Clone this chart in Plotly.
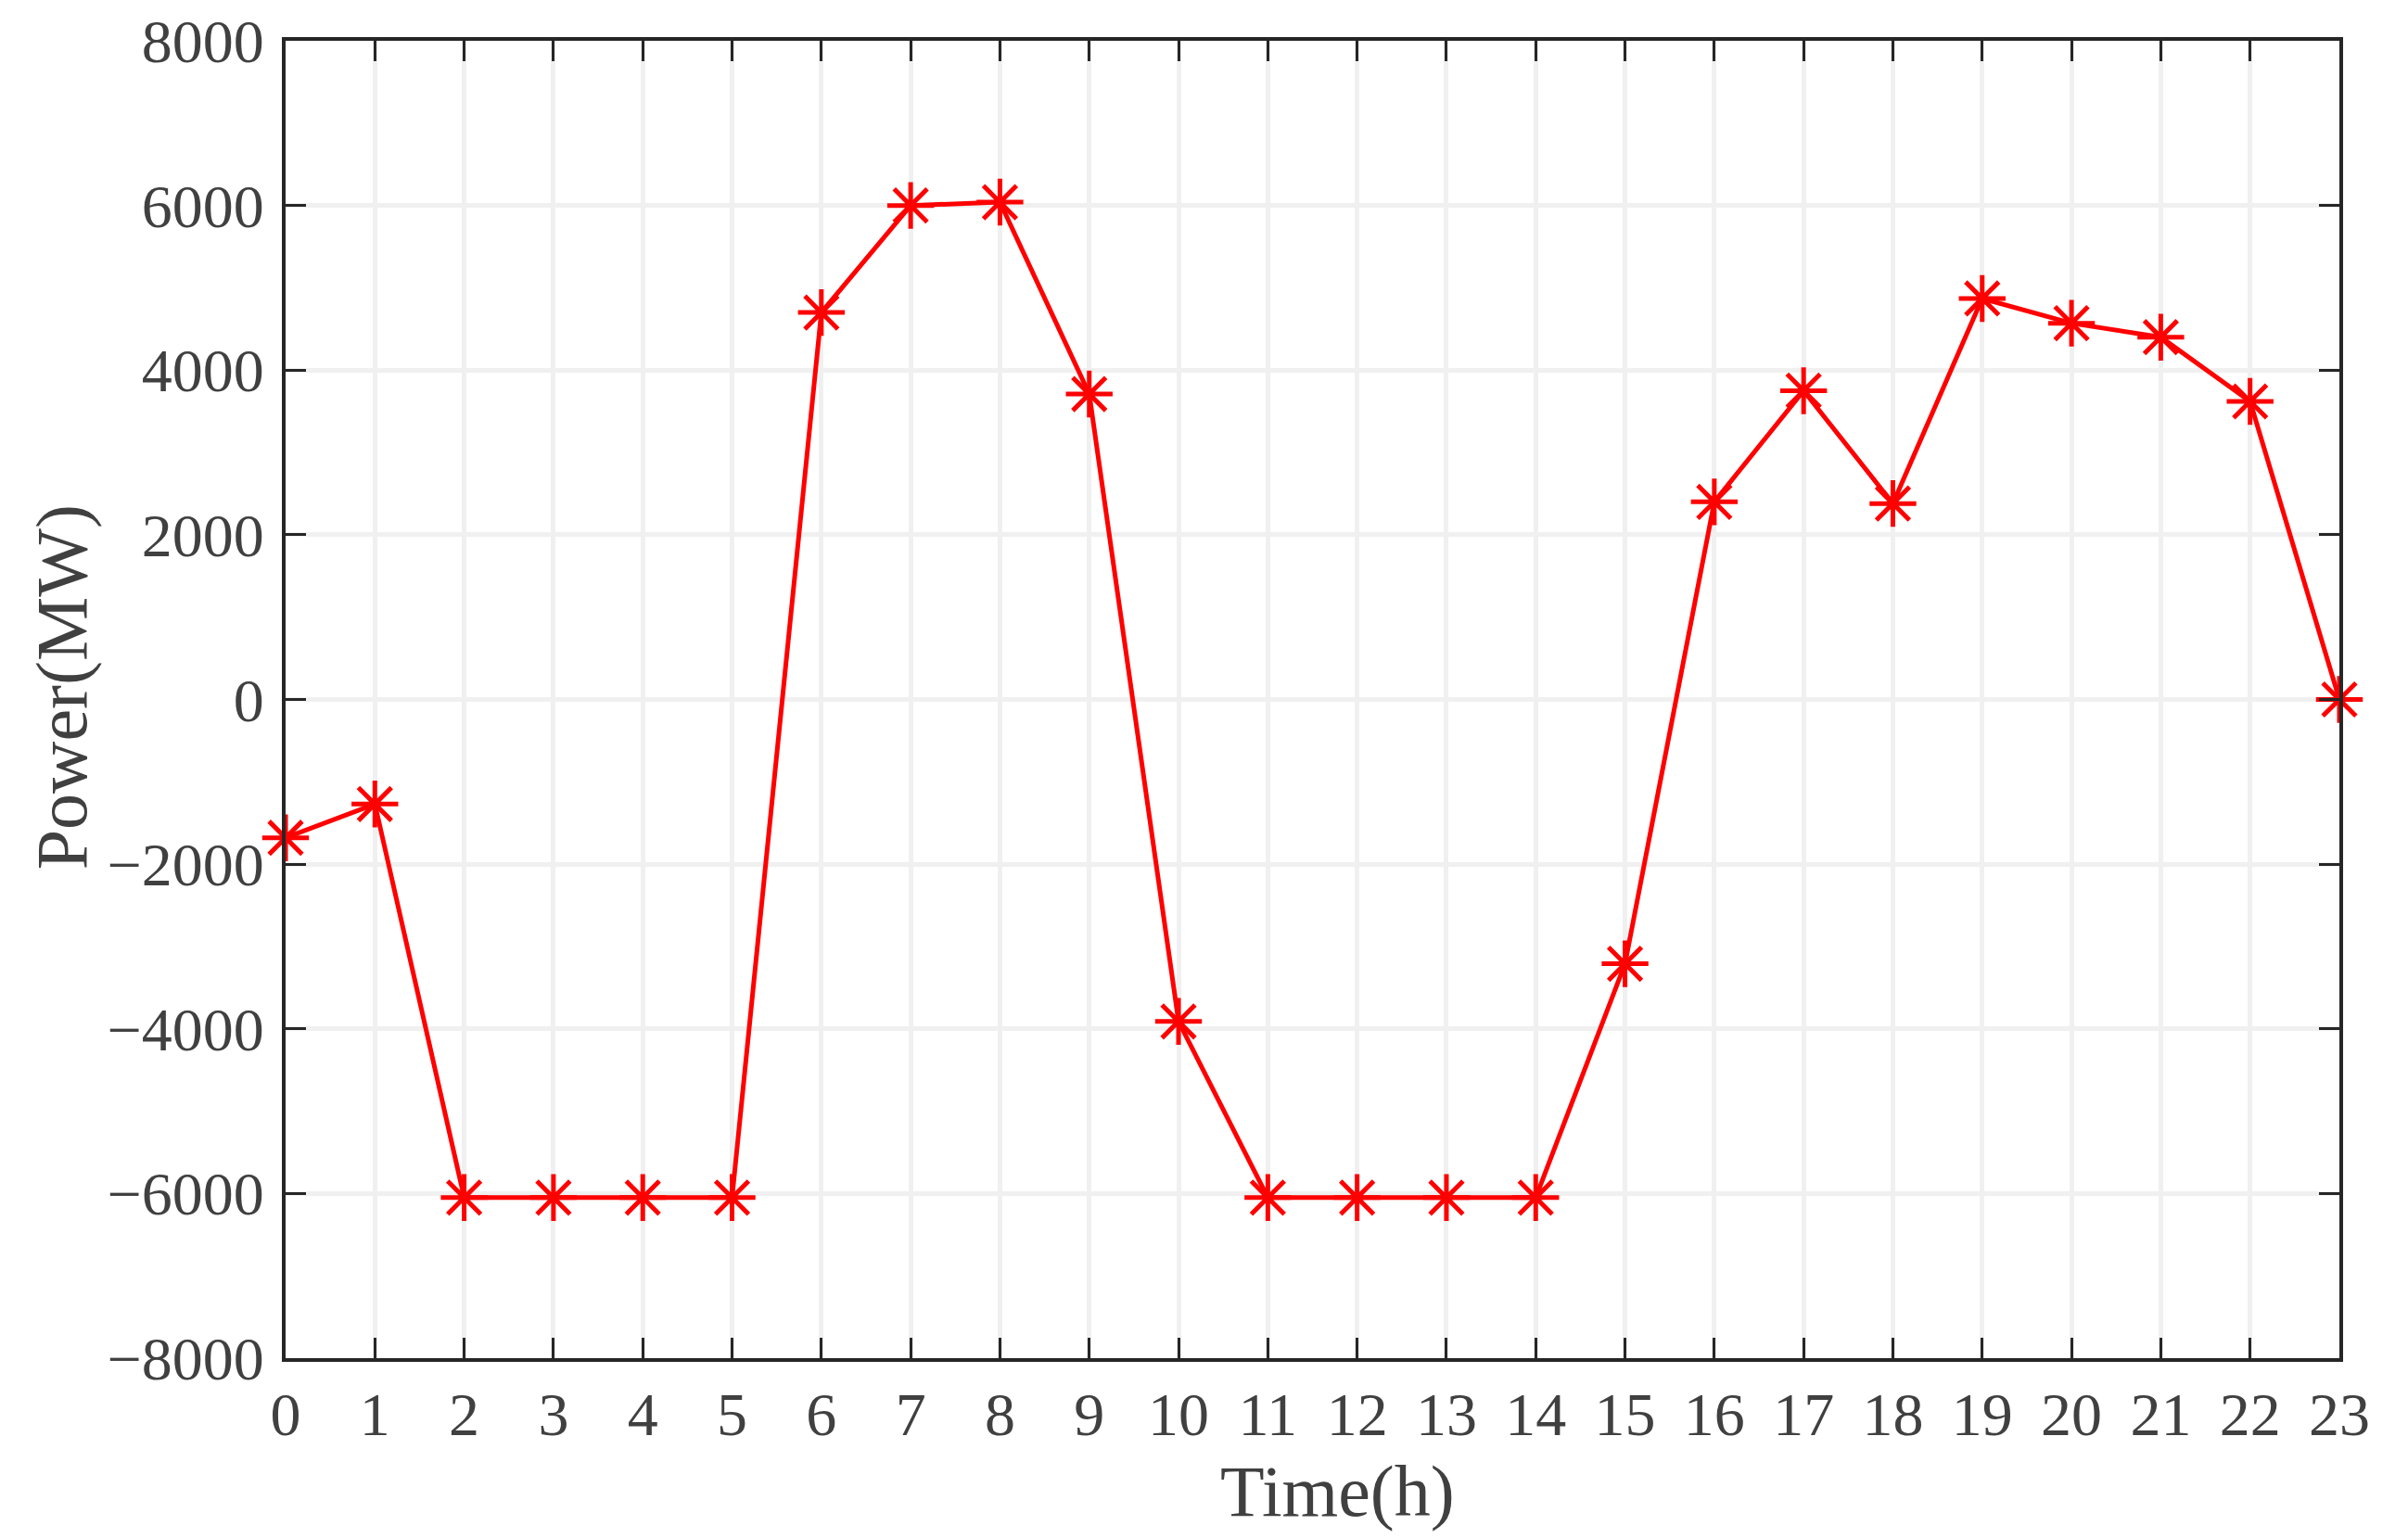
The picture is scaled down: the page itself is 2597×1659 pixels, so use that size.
import plotly.graph_objects as go

# hourly power (MW)
hours = list(range(24))
power = [-1680, -1270, -6050, -6050, -6050, -6050, 4700, 6000,
         6040, 3710, -3910, -6050, -6050, -6050, -6050, -3210,
         2400, 3750, 2380, 4870, 4570, 4400, 3620, 0]

y_ticks = list(range(-8000, 8001, 2000))

font_family = "Liberation Serif"
txt_color = "#404040"
axis_color = "#262626"
grid_color = "#f0f0f0"

fig = go.Figure()
fig.add_trace(go.Scatter(
  x=hours, y=power, mode="lines+markers",
  line=dict(color="#ff0000", width=5),
  marker=dict(symbol="asterisk-open", size=42, color="#ff0000",
              line=dict(color="#ff0000", width=5)),
  showlegend=False,
  cliponaxis=False,
))

axis_common = dict(
  showline=True, linecolor=axis_color, linewidth=4, mirror="ticks",
  ticks="inside", ticklen=22, tickwidth=3, tickcolor=axis_color,
  showgrid=True, gridcolor=grid_color, gridwidth=5, zeroline=False,
  tickfont=dict(family=font_family, size=66, color=txt_color),
  automargin=False,
)

fig.update_xaxes(
  range=[0, 23], tickmode="array", tickvals=hours,
  ticktext=[str(h) for h in hours],
  ticklabelstandoff=0,
  **axis_common)
fig.update_yaxes(
  range=[-8000, 8000], tickmode="array", tickvals=y_ticks,
  ticktext=[str(v).replace("-", "\u2212") for v in y_ticks],
  ticklabelstandoff=6,
  **axis_common)

# axis titles as annotations so they sit where the original puts them
title_font = dict(family=font_family, size=78, color=txt_color)
fig.add_annotation(text="Time(h)", xref="paper", yref="paper",
                   x=0.512, y=-0.101, xanchor="center", yanchor="middle",
                   showarrow=False, font=title_font)
fig.add_annotation(text="Power(MW)", xref="paper", yref="paper",
                   x=-0.109, y=0.509, xanchor="center", yanchor="middle",
                   textangle=-90, showarrow=False, font=title_font)

fig.update_layout(
  width=2597, height=1659,
  margin=dict(l=300, r=82, t=36, b=202, pad=0),
  paper_bgcolor="white", plot_bgcolor="white",
)

fig.write_html("out.html")
